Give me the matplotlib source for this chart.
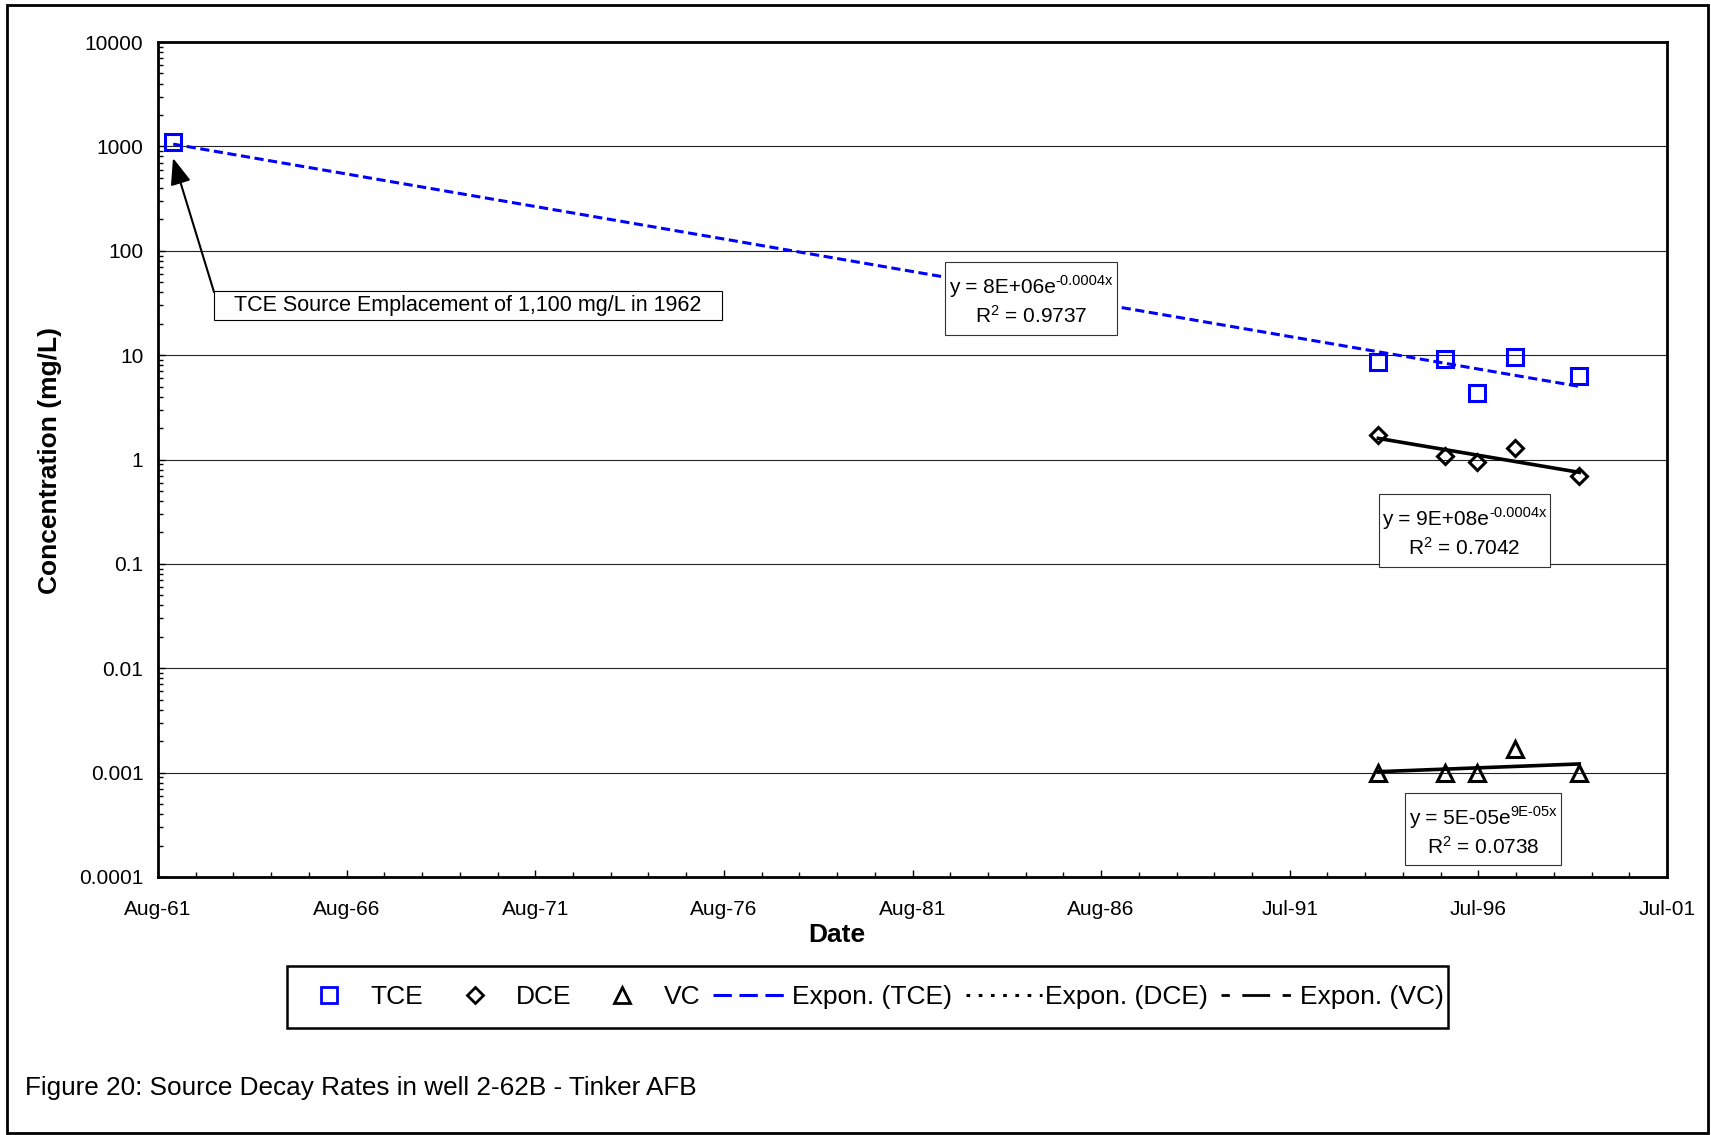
import numpy as np
import pandas as pd
import matplotlib
matplotlib.use('Agg')
import matplotlib.pyplot as plt
import matplotlib.dates as mdates
import matplotlib.ticker as mticker
from matplotlib.patches import Rectangle
from matplotlib.lines import Line2D

plt.rcParams['font.family'] = ['Liberation Sans', 'DejaVu Sans']
plt.rcParams['mathtext.fontset'] = 'custom'
plt.rcParams['mathtext.rm'] = 'Liberation Sans'
plt.rcParams['mathtext.it'] = 'Liberation Sans:italic'
plt.rcParams['mathtext.bf'] = 'Liberation Sans:bold'

# sample dates / concentrations (mg/L), well 2-62B
tce_dates = ['1962-01-01', '1993-12-04', '1995-09-10', '1996-07-19', '1997-07-21', '1999-04-01']
tce_conc = [1100, 8.5, 9.2, 4.3, 9.6, 6.3]

dce_dates = ['1993-12-04', '1995-09-10', '1996-07-19', '1997-07-21', '1999-04-01']
dce_conc = [1.71, 1.09, 0.94, 1.30, 0.69]

vc_dates = ['1993-12-04', '1995-09-10', '1996-07-19', '1997-07-21', '1999-04-01']
vc_conc = [0.001, 0.001, 0.001, 0.0017, 0.001]

y_ticks = [0.0001, 0.001, 0.01, 0.1, 1, 10, 100, 1000, 10000]
y_labels = ['0.0001', '0.001', '0.01', '0.1', '1', '10', '100', '1000', '10000']

# Excel-style date axis: start date, major unit 1825 days, minor 365 days
x_start = '1961-08-07'
x_labels = ['Aug-61', 'Aug-66', 'Aug-71', 'Aug-76', 'Aug-81', 'Aug-86', 'Jul-91', 'Jul-96', 'Jul-01']
major_step = 1825
minor_step = 365

# trendline equations: (base, exponent, r-squared)
eq_tce = ('y = 8E+06e', '-0.0004x', '0.9737')
eq_dce = ('y = 9E+08e', '-0.0004x', '0.7042')
eq_vc = ('y = 5E-05e', '9E-05x', '0.0738')

legend_labels = ['TCE', 'DCE', 'VC', 'Expon. (TCE)', 'Expon. (DCE)', 'Expon. (VC)']
note = 'TCE Source Emplacement of 1,100 mg/L in 1962'
caption = 'Figure 20: Source Decay Rates in well 2-62B - Tinker AFB'

W, H = 1711, 1135


def px(x, y):
    # pixel position (from top left) -> figure fraction
    return x / W, 1 - y / H


def to_num(dates):
    return mdates.date2num(pd.to_datetime(dates).to_pydatetime())


def expon_fit(dates, conc):
    x = to_num(dates)
    b, ln_a = np.polyfit(x, np.log(conc), 1)
    xs = np.linspace(x.min(), x.max(), 200)
    return xs, np.exp(ln_a + b * xs)


fig = plt.figure(figsize=(W / 100, H / 100), dpi=100)
ax = fig.add_axes([158 / W, 1 - 877 / H, 1509 / W, 835 / H])
renderer = fig.canvas.get_renderer()

# trend lines
xs, ys = expon_fit(tce_dates, tce_conc)
ax.plot(xs, ys, color='blue', lw=2.2, ls=(0, (3, 1.5)), zorder=3)
xs, ys = expon_fit(dce_dates, dce_conc)
ax.plot(xs, ys, color='black', lw=2.6, zorder=3)
xs, ys = expon_fit(vc_dates, vc_conc)
ax.plot(xs, ys, color='black', lw=2.6, zorder=3)

# data points
ax.plot(to_num(tce_dates), tce_conc, ls='none', marker='s', ms=12, mfc='none', mec='blue', mew=2.2, zorder=4)
ax.plot(to_num(dce_dates), dce_conc, ls='none', marker='D', ms=8.5, mfc='none', mec='black', mew=2.2, zorder=4)
ax.plot(to_num(vc_dates), vc_conc, ls='none', marker='^', ms=11.5, mfc='none', mec='black', mew=2.2, zorder=4)

# axes
ax.set_yscale('log')
ax.set_ylim(1e-4, 1e4)
ax.set_yticks(y_ticks, y_labels)
ax.yaxis.set_minor_locator(mticker.LogLocator(base=10, subs=np.arange(2, 10), numticks=20))
ax.yaxis.set_minor_formatter(mticker.NullFormatter())

x0 = to_num([x_start])[0]
ax.set_xlim(x0, x0 + 8 * major_step)
ax.set_xticks([x0 + k * major_step for k in range(9)], x_labels)
ax.set_xticks([x0 + k * minor_step for k in range(41)], minor=True)

ax.tick_params(which='both', direction='in', width=1.0, labelsize=15)
ax.tick_params(which='major', length=5)
ax.tick_params(which='minor', length=3.5)
ax.tick_params(axis='x', pad=16.5)
ax.tick_params(axis='y', pad=10.5)
for s in ax.spines.values():
    s.set_linewidth(2)
ax.yaxis.grid(True, which='major', color='#222222', lw=0.8)
ax.set_axisbelow(True)

fig.text(*px(50, 461), 'Concentration (mg/L)', rotation=90, ha='center', va='center',
         fontsize=19, fontweight='bold')
fig.text(*px(837, 935), 'Date', ha='center', va='center', fontsize=19, fontweight='bold')


def text_box(x0, y0, x1, y1, lw=0.8, ec='#333333'):
    fx0, fy1 = px(x0, y0)
    fx1, fy0 = px(x1, y1)
    ax.add_patch(Rectangle((fx0, fy0), fx1 - fx0, fy1 - fy0, transform=fig.transFigure,
                           fc='white', ec=ec, lw=lw, zorder=5, clip_on=False))


def eq_box(x0, y0, x1, y1, eq):
    base, sup, r2 = eq
    text_box(x0, y0, x1, y1)
    cx = (x0 + x1) / 2
    # first line: base text plus raised exponent, centred as a whole
    t1 = fig.text(0, 0, base, fontsize=15, va='baseline', zorder=6)
    t2 = fig.text(0, 0, sup, fontsize=10.5, va='baseline', zorder=6)
    w1 = t1.get_window_extent(renderer).width
    w2 = t2.get_window_extent(renderer).width
    left = cx - (w1 + w2) / 2
    t1.set_position(px(left, y0 + 31))
    t2.set_position(px(left + w1, y0 + 23))
    fig.text(*px(cx, y0 + 61), r'R$^{\mathregular{2}}$ = ' + r2, ha='center', va='baseline',
             fontsize=15, zorder=6)


eq_box(945, 262, 1117, 335, eq_tce)
eq_box(1379, 494, 1550, 567, eq_dce)
eq_box(1405, 793, 1561, 865, eq_vc)

# source annotation
text_box(214, 291, 722, 320, ec='black')
fig.text(*px(468, 306), note, ha='center', va='center', fontsize=15.5, zorder=6)
ax.annotate('', xy=px(173, 158), xycoords='figure fraction',
            xytext=px(214, 292), textcoords='figure fraction',
            arrowprops=dict(arrowstyle='-|>,head_length=0.9,head_width=0.35', color='black',
                            lw=1.5, mutation_scale=18, shrinkA=0, shrinkB=0))

# legend
handles = [
    Line2D([], [], ls='none', marker='s', ms=11, mfc='none', mec='blue', mew=2.0),
    Line2D([], [], ls='none', marker='D', ms=8, mfc='none', mec='black', mew=2.0),
    Line2D([], [], ls='none', marker='^', ms=11, mfc='none', mec='black', mew=2.0),
    Line2D([], [], color='blue', lw=2.2, ls=(0, (6, 2.5))),
    Line2D([], [], color='black', lw=2.2, ls=(0, (1.2, 2.8))),
    Line2D([], [], color='black', lw=2, ls=(0, (3, 4.5, 10, 4.5))),
]
lx0, ly1 = px(287, 966)
lx1, ly0 = px(1448, 1028)
fig.add_artist(Rectangle((lx0, ly0), lx1 - lx0, ly1 - ly0, transform=fig.transFigure,
                         fill=False, ec='black', lw=1.8))
fig.legend(handles, legend_labels, loc='center', bbox_to_anchor=((lx0 + lx1) / 2, (ly0 + ly1) / 2),
           ncol=6, fontsize=19, handlelength=2.9, handletextpad=0.1, columnspacing=0.5,
           borderpad=0.2, frameon=False)

fig.text(*px(25, 1095), caption, fontsize=18.8, va='baseline')

# outer border
bx0, by1 = px(6.5, 4.5)
bx1, by0 = px(1708, 1132.5)
fig.add_artist(Rectangle((bx0, by0), bx1 - bx0, by1 - by0, transform=fig.transFigure,
                         fill=False, ec='black', lw=2))

fig.savefig('out.png', dpi=100)
